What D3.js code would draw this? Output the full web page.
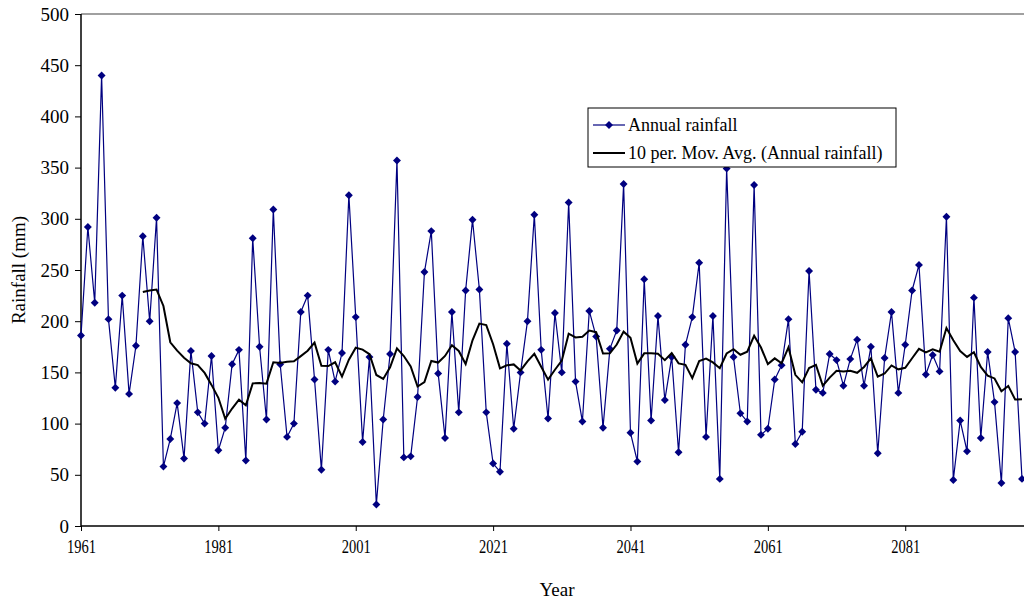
<!DOCTYPE html>
<html>
<head>
<meta charset="utf-8">
<script src="https://cdn.jsdelivr.net/npm/d3@7"></script>
<style>
    body { margin: 0; background: #fff; }
</style>
</head>
<body>
<svg id="chart"></svg>
<script>
// Years shown on the category axis
const startYear = 1961;
const endYear = 2098;
const tickYears = [1961, 1981, 2001, 2021, 2041, 2061, 2081];
const yTicks = [0, 50, 100, 150, 200, 250, 300, 350, 400, 450, 500];

// Annual rainfall (mm), one value per year from 1961
const rainfall = [
    186, 292, 218, 440, 202, 135, 225, 129, 176, 283,
    200, 301, 58, 85, 120, 66, 171, 111, 100, 166,
    74, 96, 158, 172, 64, 281, 175, 104, 309, 158,
    87, 100, 209, 225, 143, 55, 172, 141, 169, 323,
    204, 82, 165, 21, 104, 168, 357, 67, 68, 126,
    248, 288, 149, 86, 209, 111, 230, 299, 231, 111,
    61, 53, 178, 95, 150, 200, 304, 172, 105, 208,
    150, 316, 141, 102, 210, 185, 96, 173, 191, 334,
    91, 63, 241, 103, 205, 123, 165, 72, 177, 204,
    257, 87, 205, 46, 349, 165, 110, 102, 333, 89,
    95, 143, 157, 202, 80, 92, 249, 133, 130, 168,
    162, 137, 163, 182, 137, 175, 71, 164, 209, 130,
    177, 230, 255, 148, 167, 151, 302, 45, 103, 73,
    223, 86, 170, 121, 42, 203, 170, 46
];

const legendLabels = ['Annual rainfall', '10 per. Mov. Avg. (Annual rainfall)'];
const movingPeriod = 10;
const serif = '"Liberation Serif", "Times New Roman", "DejaVu Serif", serif';

class RainfallChart {

    constructor(_config, _data) {
        this.config = {
            parentElement: _config.parentElement,
            containerWidth: 1024,
            containerHeight: 600,
            margin: {
                top: 14,
                right: 2,
                bottom: 74,
                left: 81
            }
        }
        this.data = _data;
        this.initVis();
    }

    initVis() {
        let vis = this;
        vis.config.width = vis.config.containerWidth - vis.config.margin.left - vis.config.margin.right;
        vis.config.height = vis.config.containerHeight - vis.config.margin.top - vis.config.margin.bottom;

        vis.svg = d3.select(vis.config.parentElement)
            .attr('width', vis.config.containerWidth)
            .attr('height', vis.config.containerHeight)
            .attr('font-family', serif);

        vis.chart = vis.svg.append('g')
            .attr('transform', `translate(${vis.config.margin.left},${vis.config.margin.top})`);

        // one year is ~6.87px wide, last year sits right at the edge
        vis.xScale = d3.scaleLinear().domain([startYear, endYear]).range([0, 941]);
        vis.yScale = d3.scaleLinear().domain([0, 500]).range([vis.config.height, 0]);

        vis.xAxis = d3.axisBottom(vis.xScale)
            .tickValues(tickYears)
            .tickSize(5)
            .tickPadding(9)
            .tickFormat(d3.format('d'));

        vis.yAxis = d3.axisLeft(vis.yScale)
            .tickValues(yTicks)
            .tickSize(6)
            .tickPadding(6);

        // grey plot frame on top
        vis.chart.append('line')
            .attr('x1', 0).attr('x2', vis.config.width + 10)
            .attr('y1', 0).attr('y2', 0)
            .attr('stroke', '#808080')
            .attr('stroke-width', 1.5);

        vis.xAxisG = vis.chart.append('g')
            .attr('class', 'axis x-axis')
            .attr('transform', `translate(0,${vis.config.height})`);

        vis.yAxisG = vis.chart.append('g')
            .attr('class', 'axis y-axis');

        vis.svg.append('text')
            .attr('transform', `translate(25,${vis.config.margin.top + 256}) rotate(-90)`)
            .attr('text-anchor', 'middle')
            .attr('font-size', 19)
            .text('Rainfall (mm)');

        vis.svg.append('text')
            .attr('x', 557)
            .attr('y', 596)
            .attr('text-anchor', 'middle')
            .attr('font-size', 19)
            .text('Year');
    }

    updateVis() {
        let vis = this;
        vis.points = vis.data.map((v, i) => ({year: startYear + i, value: v}));

        // Excel style trailing moving average
        vis.avgPoints = [];
        vis.points.forEach((d, i) => {
            if (i >= movingPeriod - 1) {
                let win = vis.data.slice(i - movingPeriod + 1, i + 1);
                vis.avgPoints.push({year: d.year, value: d3.mean(win)});
            }
        });
        vis.renderVis();
    }

    renderVis() {
        let vis = this;

        const line = d3.line()
            .x(d => vis.xScale(d.year))
            .y(d => vis.yScale(d.value));

        vis.chart.append('path')
            .datum(vis.points)
            .attr('fill', 'none')
            .attr('stroke', '#000080')
            .attr('stroke-width', 1.2)
            .attr('d', line);

        const diamond = d3.symbol().type(d3.symbolDiamond2).size(40);

        vis.chart.selectAll('.marker')
            .data(vis.points)
            .join('path')
            .attr('class', 'marker')
            .attr('transform', d => `translate(${vis.xScale(d.year)},${vis.yScale(d.value)})`)
            .attr('fill', '#000080')
            .attr('d', diamond);

        vis.chart.append('path')
            .datum(vis.avgPoints)
            .attr('fill', 'none')
            .attr('stroke', '#000')
            .attr('stroke-width', 2)
            .attr('d', line);

        vis.xAxisG.call(vis.xAxis)
            .attr('font-family', serif)
            .call(g => g.select('.domain').attr('d', `M0,0H${vis.config.width + 10}`).attr('stroke-width', 1.5))
            .call(g => g.selectAll('text').attr('font-size', 18).attr('fill', '#000')
                .attr('textLength', 29).attr('lengthAdjust', 'spacingAndGlyphs'));

        vis.yAxisG.call(vis.yAxis)
            .attr('font-family', serif)
            .call(g => g.select('.domain').attr('d', `M0,0V${vis.config.height}`).attr('stroke-width', 1.5))
            .call(g => g.selectAll('text').attr('font-size', 19).attr('fill', '#000'));

        vis.renderLegend(diamond);
    }

    renderLegend(diamond) {
        let vis = this;
        const legend = vis.svg.append('g')
            .attr('class', 'legend')
            .attr('transform', 'translate(588,108)');

        legend.append('rect')
            .attr('width', 308)
            .attr('height', 59)
            .attr('fill', '#fff')
            .attr('stroke', '#000')
            .attr('stroke-width', 1);

        const items = legend.selectAll('.legend-item')
            .data(legendLabels)
            .join('g')
            .attr('class', 'legend-item')
            .attr('transform', (d, i) => `translate(0,${17 + i * 28})`);

        items.append('line')
            .attr('x1', 5).attr('x2', 37)
            .attr('stroke', (d, i) => i === 0 ? '#000080' : '#000')
            .attr('stroke-width', (d, i) => i === 0 ? 1.2 : 2);

        items.filter((d, i) => i === 0)
            .append('path')
            .attr('transform', 'translate(21,0)')
            .attr('fill', '#000080')
            .attr('d', diamond);

        items.append('text')
            .attr('x', 40)
            .attr('y', 6)
            .attr('font-size', 18)
            .text(d => d);
    }
}

const chart = new RainfallChart({parentElement: '#chart'}, rainfall);
chart.updateVis();
</script>
</body>
</html>
